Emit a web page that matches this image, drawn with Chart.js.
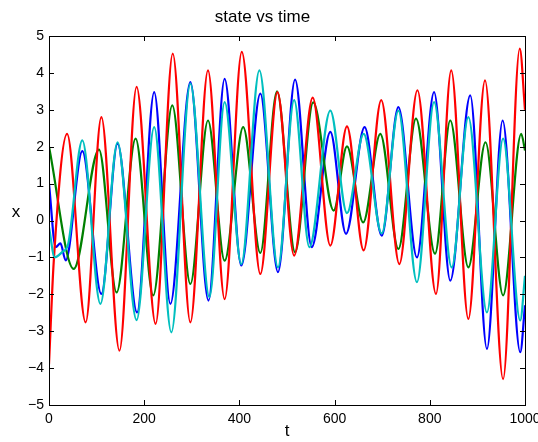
<!DOCTYPE html>
<html lang="en">
<head>
    <meta charset="UTF-8">
    <title>state vs time</title>
    <script src="https://cdn.jsdelivr.net/npm/chart.js"></script>
    <style>
        body { margin: 0; background: #fff; }
        #wrap { width: 538px; height: 442px; }
    </style>
</head>
<body>
    <div id="wrap"><canvas id="stateChart"></canvas></div>
    <script type="text/javascript">
        // peaks / troughs, per state
        const tBlue = [0, 14, 24, 35, 70, 110, 144, 185, 221, 255, 297, 335, 369, 404, 444, 481, 517, 552, 591, 624, 663, 699, 734, 773, 809, 843, 885, 920, 953, 990, 1000];
        const xBlue = [1.0, -0.72, -0.62, -1.08, 1.88, -1.99, 2.08, -2.49, 3.48, -2.26, 3.75, -2.17, 3.84, -1.22, 3.44, -1.4, 3.82, -0.72, 2.4, -0.36, 2.53, -0.41, 3.07, -1.0, 3.48, -1.63, 3.39, -3.48, 2.71, -3.57, -2.3];

        const tGreen = [0, 52, 105, 142, 182, 219, 259, 297, 334, 369, 408, 444, 479, 517, 555, 598, 626, 660, 696, 734, 771, 811, 843, 881, 917, 954, 992, 1000];
        const xGreen = [2.0, -1.31, 1.92, -1.95, 2.22, -2.03, 3.12, -1.72, 2.71, -1.09, 2.53, -0.88, 3.5, -0.86, 3.2, 0.27, 2.01, -0.05, 2.35, -0.77, 2.76, -0.9, 2.71, -1.27, 2.12, -2.03, 2.35, 1.9];

        const tRed = [0, 10, 38, 77, 110, 148, 184, 224, 260, 297, 334, 369, 405, 444, 480, 515, 554, 591, 626, 661, 698, 736, 774, 813, 845, 881, 916, 954, 989, 1000];
        const xRed = [-3.9, -1.1, 2.35, -2.76, 2.8, -3.53, 3.62, -2.8, 4.52, -2.76, 4.07, -2.13, 4.57, -1.45, 3.48, -0.95, 3.33, -0.68, 2.55, -0.81, 3.26, -1.18, 3.53, -1.99, 4.07, -2.67, 3.8, -4.3, 4.66, 3.0];

        const tCyan = [0, 12, 28, 40, 70, 108, 144, 184, 221, 257, 297, 337, 369, 404, 442, 481, 515, 547, 591, 626, 661, 699, 734, 773, 809, 846, 881, 920, 954, 990, 1000];
        const xCyan = [-0.18, -1.0, -0.85, -0.65, 2.17, -2.26, 2.12, -2.7, 2.53, -3.03, 3.71, -2.08, 3.21, -1.18, 4.07, -1.27, 3.26, -0.72, 2.98, 0.2, 2.35, -0.35, 2.98, -1.67, 3.21, -1.27, 2.8, -2.49, 2.22, -2.71, -1.5];

        const xTicks = [0, 200, 400, 600, 800, 1000];
        const yTicks = [-5, -4, -3, -2, -1, 0, 1, 2, 3, 4, 5];

        const font = "'Liberation Sans', Arial, Helvetica, sans-serif";

        function pts(ts, xs) {
            return ts.map((t, i) => ({ x: t, y: xs[i] }));
        }

        function series(ts, xs, color, order) {
            return {
                data: pts(ts, xs),
                borderColor: color,
                borderWidth: 2.2,
                pointRadius: 0,
                fill: false,
                cubicInterpolationMode: 'monotone',
                order: order
            };
        }

        // matlab style box with ticks pointing inwards, plus the upright ylabel
        const boxTicks = {
            id: 'boxTicks',
            afterDatasetsDraw(chart) {
                const ctx = chart.ctx, a = chart.chartArea;
                const sx = chart.scales.x, sy = chart.scales.y;
                ctx.save();
                ctx.strokeStyle = '#000';
                ctx.lineWidth = 1;
                ctx.beginPath();
                xTicks.forEach(v => {
                    const px = Math.round(sx.getPixelForValue(v)) + 0.5;
                    ctx.moveTo(px, a.bottom); ctx.lineTo(px, a.bottom - 5);
                    ctx.moveTo(px, a.top); ctx.lineTo(px, a.top + 5);
                });
                yTicks.forEach(v => {
                    const py = Math.round(sy.getPixelForValue(v)) + 0.5;
                    ctx.moveTo(a.left, py); ctx.lineTo(a.left + 5, py);
                    ctx.moveTo(a.right, py); ctx.lineTo(a.right - 5, py);
                });
                ctx.stroke();
                ctx.strokeRect(Math.round(a.left) + 0.5, Math.round(a.top) + 0.5,
                    Math.round(a.right - a.left), Math.round(a.bottom - a.top));

                ctx.fillStyle = '#000';
                ctx.font = '17px ' + font;
                ctx.textAlign = 'center';
                ctx.textBaseline = 'middle';
                ctx.fillText('x', 16, (a.top + a.bottom) / 2 - 8);
                ctx.restore();
            }
        };

        var ctx = document.getElementById('stateChart').getContext('2d');
        var myChart = new Chart(ctx, {
            type: 'line',
            data: {
                datasets: [
                    series(tBlue, xBlue, '#0000ff', 4),
                    series(tGreen, xGreen, '#008000', 3),
                    series(tRed, xRed, '#ff0000', 2),
                    series(tCyan, xCyan, '#00bfbf', 1)
                ]
            },
            options: {
                responsive: true,
                maintainAspectRatio: false,
                animation: false,
                layout: { padding: { left: 0, right: 13, top: 0, bottom: 0 } },
                plugins: {
                    legend: { display: false },
                    tooltip: { enabled: false },
                    title: {
                        display: true,
                        text: 'state vs time',
                        color: '#000',
                        font: { family: font, size: 17, weight: 'normal' },
                        padding: { top: 7, bottom: 8.6 }
                    }
                },
                scales: {
                    x: {
                        type: 'linear',
                        min: 0,
                        max: 1000,
                        afterBuildTicks: s => { s.ticks = xTicks.map(v => ({ value: v })); },
                        afterFit: s => { s.height = 37; s.paddingLeft = 0; s.paddingRight = 0; },
                        grid: { display: false, drawTicks: false },
                        border: { display: false },
                        ticks: {
                            color: '#000', padding: 6, maxRotation: 0,
                            font: { family: font, size: 14 },
                            callback: v => String(v)
                        },
                        title: { display: true, text: 't', color: '#000', padding: 0, font: { family: font, size: 17 } }
                    },
                    y: {
                        min: -5,
                        max: 5,
                        afterBuildTicks: s => { s.ticks = yTicks.map(v => ({ value: v })); },
                        afterFit: s => { s.width = 49; s.paddingTop = 0; s.paddingBottom = 0; },
                        grid: { display: false, drawTicks: false },
                        border: { display: false },
                        ticks: {
                            color: '#000', padding: 5,
                            font: { family: font, size: 14 },
                            callback: v => String(v).replace('-', '\u2212')
                        }
                    }
                }
            },
            plugins: [boxTicks]
        });
    </script>
</body>
</html>
